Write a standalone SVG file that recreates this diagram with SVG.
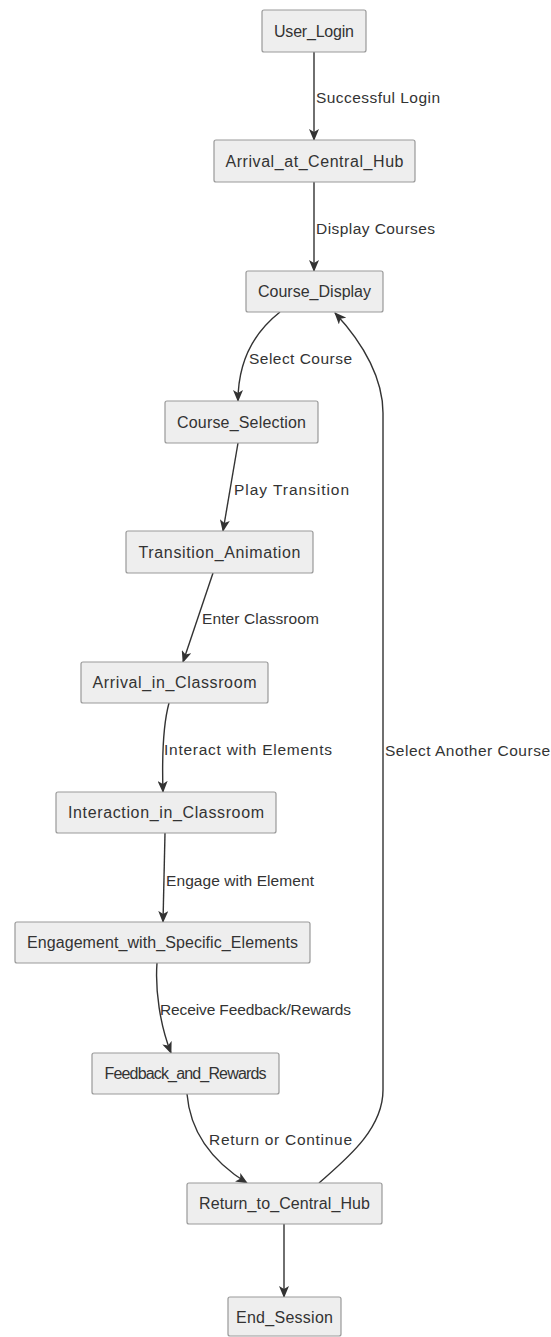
<svg xmlns="http://www.w3.org/2000/svg" width="551" height="1337" viewBox="0 0 551 1337">
<style>
.node rect{fill:#eeeeee;stroke:#999999;stroke-width:1.2}
.node text{font-family:"Liberation Sans",Arial,sans-serif;font-size:16px;fill:#333333;text-anchor:middle}
.edge{fill:none;stroke:#333333;stroke-width:1.4}
.lbl{font-family:"Liberation Sans",Arial,sans-serif;font-size:15.5px;fill:#333333}
</style>
<defs>
<marker id="arr" viewBox="0 0 12 10" refX="11" refY="5" markerWidth="12" markerHeight="10" markerUnits="userSpaceOnUse" orient="auto">
<path d="M0,0 L12,5 L0,10 L3,5 z" fill="#333333"/>
</marker>
</defs>
<rect width="551" height="1337" fill="#ffffff"/>
<g id="connectors">
<path class="edge" d="M314,52 L314,140" marker-end="url(#arr)"/>
<path class="edge" d="M314,182 L314,271" marker-end="url(#arr)"/>
<path class="edge" d="M280,312 C252,334 238,365 238,401" marker-end="url(#arr)"/>
<path class="edge" d="M238,443 L223,531" marker-end="url(#arr)"/>
<path class="edge" d="M213,573 L183,662" marker-end="url(#arr)"/>
<path class="edge" d="M169,703 C163,725 162,760 163,792" marker-end="url(#arr)"/>
<path class="edge" d="M165,833 L163,922" marker-end="url(#arr)"/>
<path class="edge" d="M157,963 C155,990 160,1025 171,1053" marker-end="url(#arr)"/>
<path class="edge" d="M187,1094 C190,1130 210,1160 247,1183" marker-end="url(#arr)"/>
<path class="edge" d="M319,1183 C345,1160 383,1130 383,1090 L383,413 C383,380 365,345 335,313" marker-end="url(#arr)"/>
<path class="edge" d="M284,1224 L284,1297" marker-end="url(#arr)"/>
<text class="lbl" x="316" y="102.5" textLength="124">Successful Login</text>
<text class="lbl" x="316" y="233.5" textLength="119">Display Courses</text>
<text class="lbl" x="249" y="363.5" textLength="103">Select Course</text>
<text class="lbl" x="234" y="494.5" textLength="115">Play Transition</text>
<text class="lbl" x="202" y="623.5" textLength="117">Enter Classroom</text>
<text class="lbl" x="164" y="754.5" textLength="168">Interact with Elements</text>
<text class="lbl" x="166" y="885.5" textLength="148">Engage with Element</text>
<text class="lbl" x="160" y="1014.5" textLength="191">Receive Feedback/Rewards</text>
<text class="lbl" x="209" y="1144.5" textLength="143">Return or Continue</text>
<text class="lbl" x="385" y="755.5" textLength="165">Select Another Course</text>
</g>
<g id="User_Login" class="node"><rect x="262" y="10" width="104" height="42" rx="2"/><text x="314" y="36.5" textLength="80">User_Login</text></g>
<g id="Arrival_at_Central_Hub" class="node"><rect x="214" y="140" width="201" height="42" rx="2"/><text x="314.5" y="166.5" textLength="178">Arrival_at_Central_Hub</text></g>
<g id="Course_Display" class="node"><rect x="246" y="271" width="137" height="41" rx="2"/><text x="314.5" y="297" textLength="113">Course_Display</text></g>
<g id="Course_Selection" class="node"><rect x="165" y="401" width="153" height="42" rx="2"/><text x="241.5" y="427.5" textLength="129">Course_Selection</text></g>
<g id="Transition_Animation" class="node"><rect x="126" y="531" width="187" height="42" rx="2"/><text x="219.5" y="557.5" textLength="162">Transition_Animation</text></g>
<g id="Arrival_in_Classroom" class="node"><rect x="81" y="662" width="187" height="41" rx="2"/><text x="174.5" y="688" textLength="164">Arrival_in_Classroom</text></g>
<g id="Interaction_in_Classroom" class="node"><rect x="56" y="792" width="220" height="41" rx="2"/><text x="166" y="818" textLength="196">Interaction_in_Classroom</text></g>
<g id="Engagement_with_Specific_Elements" class="node"><rect x="15" y="922" width="295" height="41" rx="2"/><text x="162.5" y="948" textLength="271">Engagement_with_Specific_Elements</text></g>
<g id="Feedback_and_Rewards" class="node"><rect x="92" y="1053" width="187" height="41" rx="2"/><text x="185.5" y="1079" textLength="162">Feedback_and_Rewards</text></g>
<g id="Return_to_Central_Hub" class="node"><rect x="187" y="1183" width="195" height="41" rx="2"/><text x="284.5" y="1209" textLength="171">Return_to_Central_Hub</text></g>
<g id="End_Session" class="node"><rect x="228" y="1297" width="113" height="39" rx="2"/><text x="284.5" y="1322.5" textLength="97">End_Session</text></g>
</svg>
